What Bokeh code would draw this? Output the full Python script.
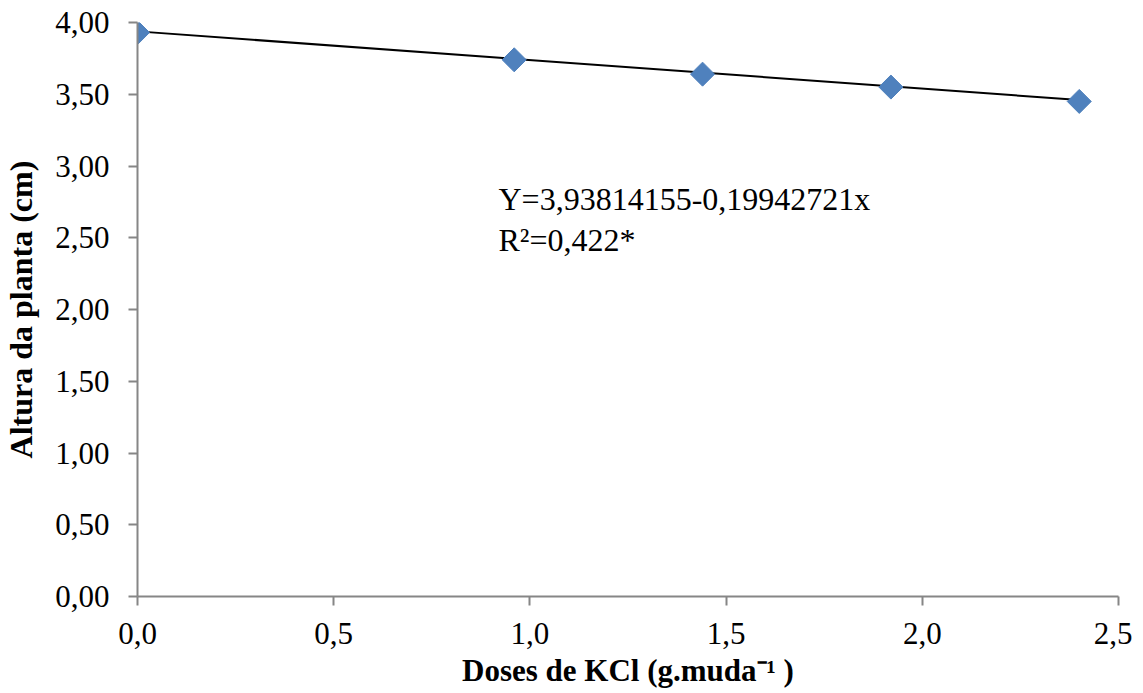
from bokeh.plotting import figure
from bokeh.models import Range1d, CustomJSTickFormatter, FixedTicker, ColumnDataSource
from bokeh.core.properties import value
from bokeh.embed import file_html
from bokeh.resources import INLINE

# Data
doses = [0.0, 0.96, 1.44, 1.92, 2.40]
altura = [3.93, 3.74, 3.64, 3.55, 3.45]
intercept = 3.93814155
slope = -0.19942721
x_ticks = [0.0, 0.5, 1.0, 1.5, 2.0, 2.5]
y_ticks = [0.0, 0.5, 1.0, 1.5, 2.0, 2.5, 3.0, 3.5, 4.0]
eq_text = ["Y=3,93814155-0,19942721x", "R²=0,422*"]

SERIF = "Liberation Serif"

p = figure(frame_width=981, frame_height=574, output_backend="svg", toolbar_location=None,
           x_range=Range1d(0, 2.5), y_range=Range1d(0, 4.0),
           min_border_left=134, min_border_top=22, min_border_right=14, min_border_bottom=4)
p.outline_line_color = None
p.grid.visible = False

# regression line
fit_x = [doses[0], doses[-1]]
fit_y = [intercept + slope * v for v in fit_x]
p.line(fit_x, fit_y, line_color="black", line_width=2)

src = ColumnDataSource(dict(x=doses, y=altura))
p.scatter("x", "y", source=src, marker="square", angle=0.785398, size=17,
          fill_color="#4F81BD", line_color="#4F81BD")

# equation text
p.text(x=[0.92, 0.92], y=[2.77, 2.485], text=eq_text, text_font=value(SERIF),
       text_font_size="32px", text_baseline="middle", text_align="left", text_color="black")

for ax in (p.xaxis[0], p.yaxis[0]):
    ax.axis_line_color = "#868686"
    ax.axis_line_width = 2
    ax.major_tick_line_color = "#868686"
    ax.major_tick_line_width = 2
    ax.minor_tick_line_color = None
    ax.major_tick_in = 0
    ax.major_tick_out = 9
    ax.major_label_text_font = SERIF
    ax.major_label_text_font_size = "31px"
    ax.major_label_text_color = "black"
    ax.axis_label_text_font = SERIF
    ax.axis_label_text_font_style = "bold"
    ax.axis_label_text_font_size = "31px"
    ax.axis_label_text_color = "black"

p.xaxis.ticker = FixedTicker(ticks=x_ticks)
p.yaxis.ticker = FixedTicker(ticks=y_ticks)
p.xaxis.formatter = CustomJSTickFormatter(code="return tick.toFixed(1).replace('.', ',');")
p.yaxis.formatter = CustomJSTickFormatter(code="return tick.toFixed(2).replace('.', ',');")
p.xaxis.axis_label = "Doses de KCl (g.muda⁻¹ )"
p.yaxis.axis_label = "Altura da planta (cm)"
p.yaxis.axis_label_text_font_size = "32px"
p.yaxis.major_label_standoff = 19
p.xaxis.major_label_standoff = 17
p.yaxis.axis_label_standoff = 13
p.xaxis.axis_label_standoff = 6

open("out.html", "w").write(file_html(p, INLINE))
